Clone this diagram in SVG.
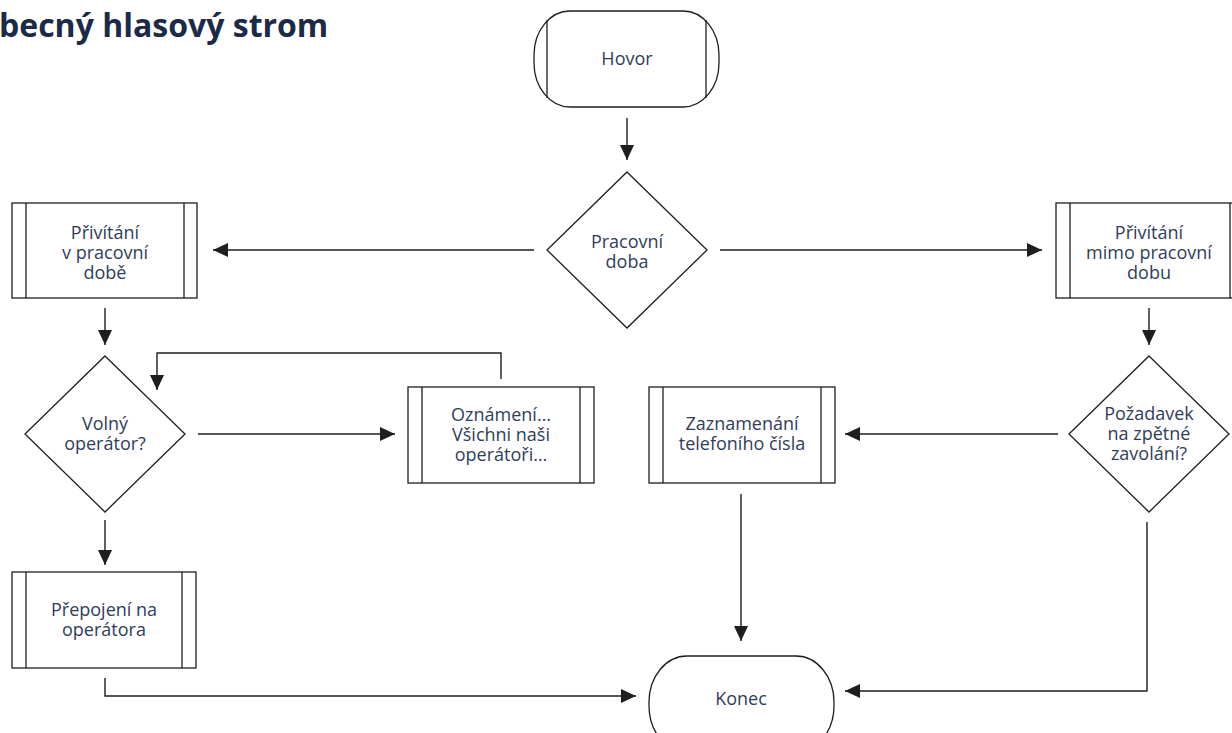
<svg xmlns="http://www.w3.org/2000/svg" width="1232" height="733" viewBox="0 0 1232 733">
<style>
.shape{fill:#ffffff;stroke:#1e1e1e;stroke-width:1.3}
.sub{stroke:#1e1e1e;stroke-width:1.3}
.lbl{font-family:"Open Sans","Liberation Sans",sans-serif;font-size:18px;fill:#2f3d5a;text-anchor:middle}
.title{font-family:"Open Sans","Liberation Sans",sans-serif;font-size:32px;font-weight:bold;fill:#1b2a47}
.conn{fill:none;stroke:#1e1e1e;stroke-width:1.4}
</style>
<defs>
<marker id="arr" markerUnits="userSpaceOnUse" markerWidth="15" markerHeight="14" viewBox="0 0 15 14" refX="15" refY="7" orient="auto">
<path d="M0,0 L15,7 L0,14 z" fill="#1e1e1e"/>
</marker>
</defs>
<rect width="1232" height="733" fill="#ffffff"/>
<text class="title" x="-1" y="37">becný hlasový strom</text>

<g id="connectors">
<path class="conn" d="M627,118 V160" marker-end="url(#arr)"/>
<path class="conn" d="M534,250 H213" marker-end="url(#arr)"/>
<path class="conn" d="M720,250 H1042" marker-end="url(#arr)"/>
<path class="conn" d="M105,308 V345" marker-end="url(#arr)"/>
<path class="conn" d="M198,434 H395" marker-end="url(#arr)"/>
<path class="conn" d="M501,379 V353 H157 V390" marker-end="url(#arr)"/>
<path class="conn" d="M105,520 V565" marker-end="url(#arr)"/>
<path class="conn" d="M105,678 V696 H636" marker-end="url(#arr)"/>
<path class="conn" d="M1149,308 V345" marker-end="url(#arr)"/>
<path class="conn" d="M1058,434 H845" marker-end="url(#arr)"/>
<path class="conn" d="M741,494 V641" marker-end="url(#arr)"/>
<path class="conn" d="M1147,522 V691 H845" marker-end="url(#arr)"/>
</g>

<g id="hovor">
<rect class="shape" x="534" y="11" width="185" height="96" rx="36" ry="44"/>
<line class="sub" x1="547" y1="20" x2="547" y2="98"/>
<line class="sub" x1="706" y1="20" x2="706" y2="98"/>
<text class="lbl" x="627" y="65">Hovor</text>
</g>

<g id="pracovni-doba">
<polygon class="shape" points="627,172 707,250 627,328 547,250"/>
<text class="lbl" x="627" y="248">Pracovní</text>
<text class="lbl" x="627" y="268">doba</text>
</g>

<g id="privitani-v">
<rect class="shape" x="12" y="203" width="185" height="95"/>
<line class="sub" x1="26" y1="203" x2="26" y2="298"/>
<line class="sub" x1="184" y1="203" x2="184" y2="298"/>
<text class="lbl" x="105" y="239">Přivítání</text>
<text class="lbl" x="105" y="259">v pracovní</text>
<text class="lbl" x="105" y="279">době</text>
</g>

<g id="privitani-mimo">
<rect class="shape" x="1056" y="203" width="186" height="95"/>
<line class="sub" x1="1070" y1="203" x2="1070" y2="298"/>
<line class="sub" x1="1230" y1="203" x2="1230" y2="298"/>
<text class="lbl" x="1149" y="239">Přivítání</text>
<text class="lbl" x="1149" y="259">mimo pracovní</text>
<text class="lbl" x="1149" y="279">dobu</text>
</g>

<g id="volny-operator">
<polygon class="shape" points="105,356 185,434 105,512 25,434"/>
<text class="lbl" x="105" y="430">Volný</text>
<text class="lbl" x="105" y="450">operátor?</text>
</g>

<g id="oznameni">
<rect class="shape" x="408" y="387" width="186" height="96"/>
<line class="sub" x1="422" y1="387" x2="422" y2="483"/>
<line class="sub" x1="580" y1="387" x2="580" y2="483"/>
<text class="lbl" x="501" y="421">Oznámení…</text>
<text class="lbl" x="501" y="441">Všichni naši</text>
<text class="lbl" x="501" y="461">operátoři…</text>
</g>

<g id="zaznamenani">
<rect class="shape" x="649" y="387" width="186" height="96"/>
<line class="sub" x1="663" y1="387" x2="663" y2="483"/>
<line class="sub" x1="821" y1="387" x2="821" y2="483"/>
<text class="lbl" x="742" y="430">Zaznamenání</text>
<text class="lbl" x="742" y="450">telefoního čísla</text>
</g>

<g id="pozadavek">
<polygon class="shape" points="1149,356 1229,434 1149,512 1069,434"/>
<text class="lbl" x="1149" y="420">Požadavek</text>
<text class="lbl" x="1149" y="440">na zpětné</text>
<text class="lbl" x="1149" y="460">zavolání?</text>
</g>

<g id="prepojeni">
<rect class="shape" x="12" y="572" width="184" height="96"/>
<line class="sub" x1="26" y1="572" x2="26" y2="668"/>
<line class="sub" x1="182" y1="572" x2="182" y2="668"/>
<text class="lbl" x="104" y="616">Přepojení na</text>
<text class="lbl" x="104" y="636">operátora</text>
</g>

<g id="konec">
<rect class="shape" x="649" y="656" width="185" height="96" rx="38" ry="46"/>
<text class="lbl" x="741" y="705">Konec</text>
</g>
</svg>
